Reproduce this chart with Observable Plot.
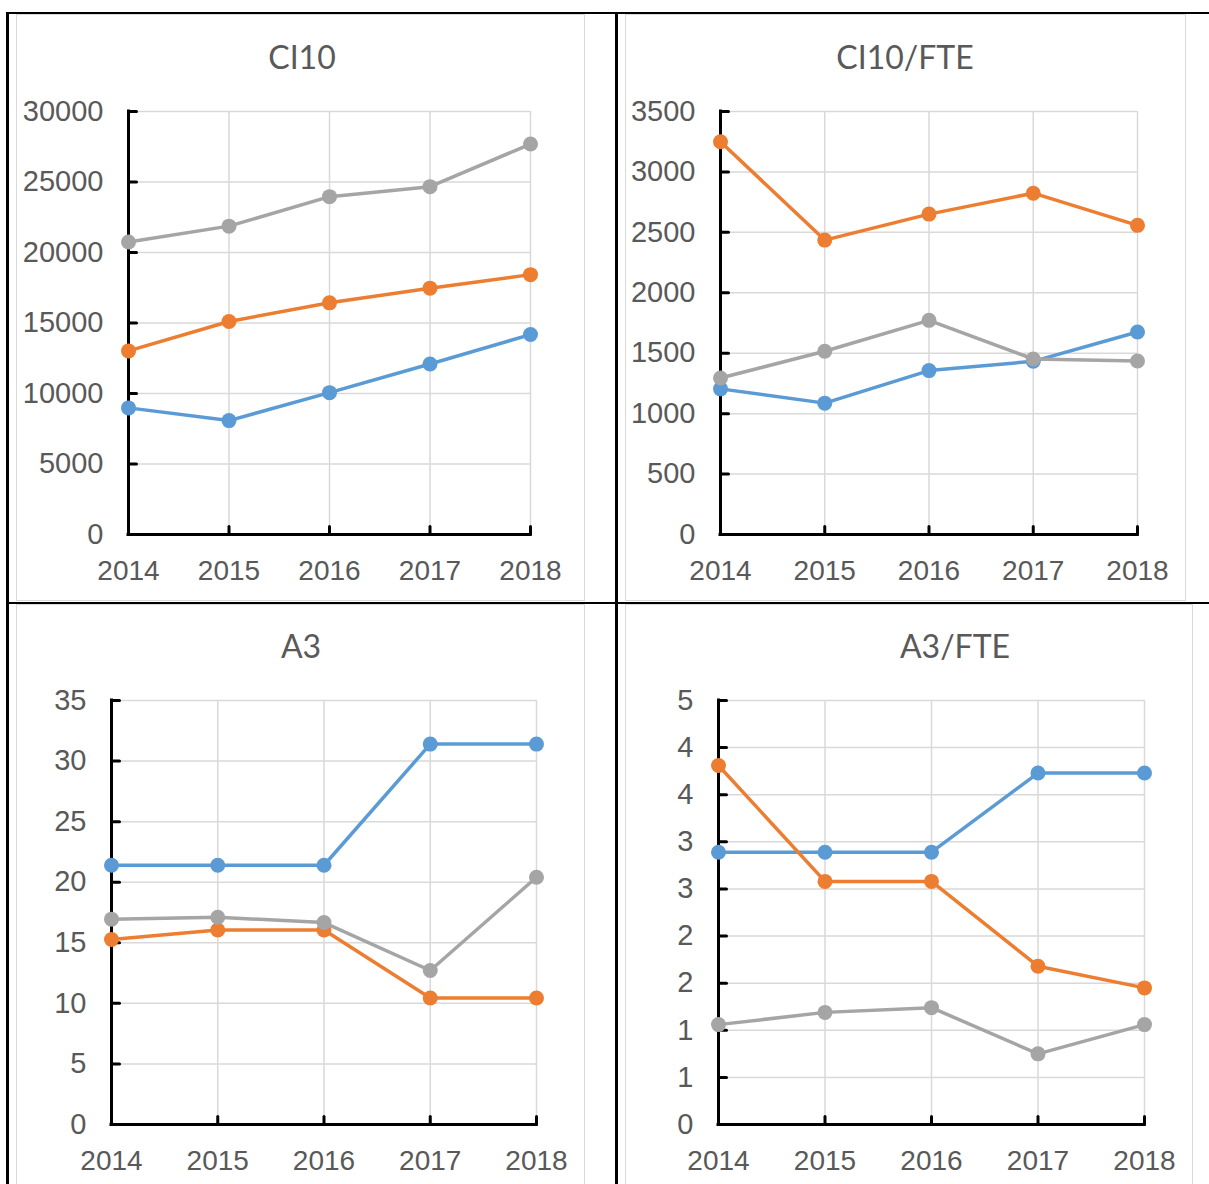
<!DOCTYPE html>
<html><head><meta charset="utf-8">
<script src="https://cdn.jsdelivr.net/npm/d3@7"></script>
<script src="https://cdn.jsdelivr.net/npm/@observablehq/plot@0.6"></script>
<style>
html,body{margin:0;padding:0;background:#fff;}
#stage{position:relative;width:1209px;height:1184px;overflow:hidden;background:#fff;}
.line{position:absolute;background:#000;}
.panel{position:absolute;background:#fff;overflow:hidden;}
.panel svg{position:absolute;left:0;top:0;max-width:none;}
.frame{position:absolute;left:0;top:0;right:0;bottom:0;border:1.5px solid #d9d9d9;pointer-events:none;}
.title{position:absolute;width:400px;text-align:center;font-family:Lato,"Open Sans",sans-serif;font-size:32px;line-height:32px;color:#595959;white-space:nowrap;}
</style></head><body><div id="stage"></div>
<script>
// ---- data ----
const years = [2014, 2015, 2016, 2017, 2018];
const seriesNames = ["Series 1", "Series 2", "Series 3"];
const seriesColors = ["#5b9bd5", "#ed7d31", "#a5a5a5"];

const ci10Title = "CI10";
const ci10S1 = [8980, 8080, 10060, 12090, 14180];
const ci10S2 = [13020, 15110, 16430, 17470, 18430];
const ci10S3 = [20740, 21870, 23960, 24670, 27690];
const ci10Ticks = [0, 5000, 10000, 15000, 20000, 25000, 30000];
const ci10TickLabels = ["0", "5000", "10000", "15000", "20000", "25000", "30000"];

const ci10FteTitle = "CI10/FTE";
const ci10FteS1 = [1205, 1087, 1356, 1433, 1676];
const ci10FteS2 = [3250, 2436, 2651, 2824, 2558];
const ci10FteS3 = [1295, 1516, 1772, 1452, 1436];
const ci10FteTicks = [0, 500, 1000, 1500, 2000, 2500, 3000, 3500];
const ci10FteTickLabels = ["0", "500", "1000", "1500", "2000", "2500", "3000", "3500"];

const a3Title = "A3";
const a3S1 = [21.4, 21.4, 21.4, 31.4, 31.4];
const a3S2 = [15.27, 16.05, 16.05, 10.44, 10.44];
const a3S3 = [16.95, 17.11, 16.67, 12.71, 20.41];
const a3Ticks = [0, 5, 10, 15, 20, 25, 30, 35];
const a3TickLabels = ["0", "5", "10", "15", "20", "25", "30", "35"];

const a3FteTitle = "A3/FTE";
const a3FteS1 = [2.89, 2.89, 2.89, 3.73, 3.73];
const a3FteS2 = [3.81, 2.58, 2.58, 1.68, 1.45];
const a3FteS3 = [1.06, 1.19, 1.24, 0.75, 1.06];
const a3FteTicks = [0, 0.5, 1, 1.5, 2, 2.5, 3, 3.5, 4, 4.5];
const a3FteTickLabels = ["0", "1", "1", "2", "2", "3", "3", "4", "4", "5"];

// ---- layout ----
const panels = [
  {title: ci10Title, series: [ci10S1, ci10S2, ci10S3], ticks: ci10Ticks, labels: ci10TickLabels,
   box: {left: 16, top: 14, width: 569, height: 587}, plot: {x0: 128, x1: 530, yTop: 111, yBot: 534}, tc: [302, 58]},
  {title: ci10FteTitle, series: [ci10FteS1, ci10FteS2, ci10FteS3], ticks: ci10FteTicks, labels: ci10FteTickLabels,
   box: {left: 625, top: 14, width: 561, height: 587}, plot: {x0: 720, x1: 1137, yTop: 111, yBot: 534}, tc: [905, 58]},
  {title: a3Title, series: [a3S1, a3S2, a3S3], ticks: a3Ticks, labels: a3TickLabels,
   box: {left: 16, top: 604, width: 569, height: 600}, plot: {x0: 111, x1: 536, yTop: 700, yBot: 1124}, tc: [301, 647]},
  {title: a3FteTitle, series: [a3FteS1, a3FteS2, a3FteS3], ticks: a3FteTicks, labels: a3FteTickLabels,
   box: {left: 625, top: 604, width: 568, height: 600}, plot: {x0: 718, x1: 1144, yTop: 700, yBot: 1124}, tc: [955, 647]}
];

const stage = document.getElementById("stage");
function addLine(l, t, w, h) {
  const d = document.createElement("div");
  d.className = "line";
  Object.assign(d.style, {left: l + "px", top: t + "px", width: w + "px", height: h + "px"});
  stage.appendChild(d);
}
addLine(6, 12, 1203, 2);
addLine(6, 12, 2.5, 1172);
addLine(614.5, 12, 3, 1172);
addLine(6, 601.5, 1203, 2.5);

const tickShape = {draw(context, l) { context.moveTo(0, 0); context.lineTo(0, -l); }};

for (const p of panels) {
  const div = document.createElement("div");
  div.className = "panel";
  Object.assign(div.style, {left: p.box.left + "px", top: p.box.top + "px", width: p.box.width + "px", height: p.box.height + "px"});
  const ymax = p.ticks[p.ticks.length - 1];
  const marks = [
    Plot.ruleX(years, {stroke: "#d9d9d9", strokeWidth: 1.5}),
    Plot.ruleY(p.ticks, {stroke: "#d9d9d9", strokeWidth: 1.5}),
    Plot.ruleX([years[0]], {y1: 0, y2: ymax, stroke: "#000", strokeWidth: 3, strokeLinecap: "square"}),
    Plot.ruleY([0], {x1: years[0], x2: years[years.length - 1], stroke: "#000", strokeWidth: 3, strokeLinecap: "square"}),
    Plot.vector(p.ticks, {x: () => years[0], y: d => d, length: 8, rotate: 90, anchor: "start", stroke: "#000", strokeWidth: 3, shape: tickShape}),
    Plot.vector(years, {x: d => d, y: () => 0, length: 8, rotate: 0, anchor: "start", stroke: "#000", strokeWidth: 3, shape: tickShape}),
    Plot.axisY({ticks: p.ticks, tickSize: 0, tickPadding: 25, tickFormat: d => p.labels[p.ticks.indexOf(d)], fontSize: 29, color: "#595959", label: null}),
    Plot.axisX({ticks: years, tickSize: 0, tickPadding: 26, tickFormat: d => String(d), fontSize: 28, color: "#595959", label: null})
  ];
  p.series.forEach((vals, k) => {
    marks.push(Plot.line(years, {x: d => d, y: (d, i) => vals[i], stroke: seriesColors[k], strokeWidth: 3.5, title: () => seriesNames[k]}));
    marks.push(Plot.dot(years, {x: d => d, y: (d, i) => vals[i], r: 7.5, fill: seriesColors[k], stroke: "none"}));
  });
  const chart = Plot.plot({
    width: p.box.width,
    height: p.box.height,
    marginLeft: p.plot.x0 - p.box.left,
    marginRight: p.box.left + p.box.width - p.plot.x1,
    marginTop: p.plot.yTop - p.box.top,
    marginBottom: p.box.top + p.box.height - p.plot.yBot,
    x: {type: "linear", domain: [years[0], years[years.length - 1]]},
    y: {type: "linear", domain: [0, ymax]},
    style: {background: "transparent", fontFamily: "'Liberation Sans', Arial, sans-serif", overflow: "visible"},
    marks
  });
  div.appendChild(chart);
  const fr = document.createElement("div");
  fr.className = "frame";
  div.appendChild(fr);
  stage.appendChild(div);
  const t = document.createElement("div");
  t.className = "title";
  t.textContent = p.title;
  Object.assign(t.style, {left: (p.tc[0] - 200) + "px", top: (p.tc[1] - 17) + "px"});
  stage.appendChild(t);
}
</script></body></html>
